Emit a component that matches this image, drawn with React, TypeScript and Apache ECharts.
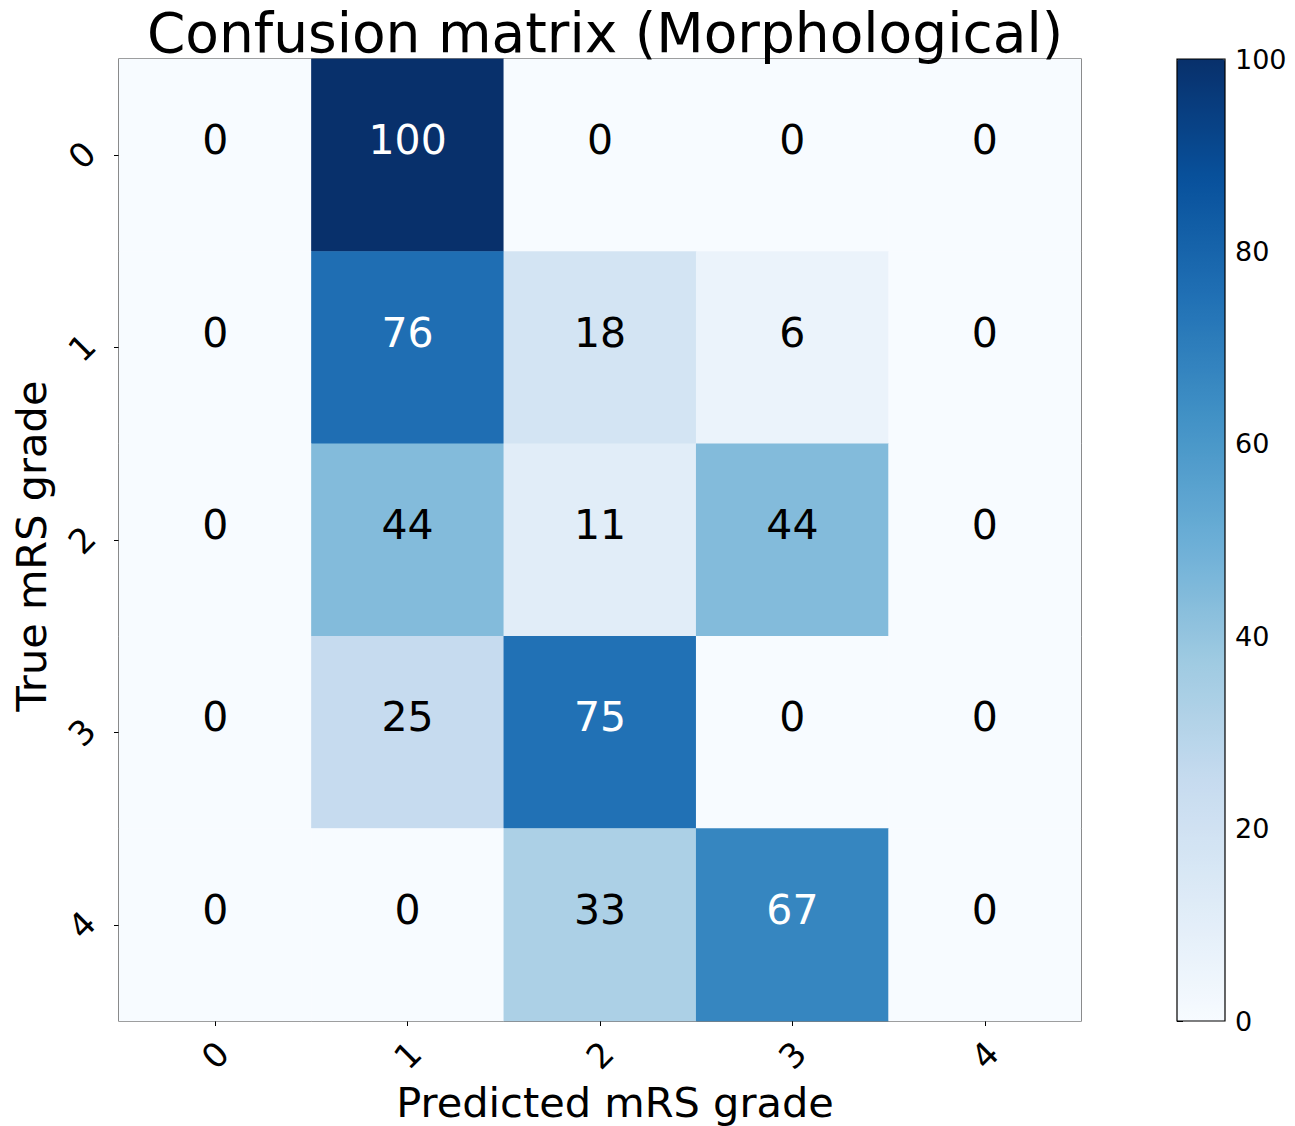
import React, { useEffect, useRef } from "react";
import * as echarts from "echarts";

const predictedLabels = ["0", "1", "2", "3", "4"];
const trueLabels = ["0", "1", "2", "3", "4"];
const matrixRows = [
  [0, 100, 0, 0, 0],
  [0, 76, 18, 6, 0],
  [0, 44, 11, 44, 0],
  [0, 25, 75, 0, 0],
  [0, 0, 33, 67, 0],
];
const colorbarTicks = [0, 20, 40, 60, 80, 100];
const bluesColors = [
  "#f7fbff", "#deebf7", "#c6dbef", "#9ecae1", "#6baed6",
  "#4292c6", "#2171b5", "#08519c", "#08306b",
];

const FONT = "DejaVu Sans";

export default function App() {
  const ref = useRef<HTMLDivElement>(null);
  useEffect(() => {
    document.body.style.margin = "0";
    const chart = echarts.init(ref.current!, null, { renderer: "svg" });
    const data: any[] = [];
    matrixRows.forEach((row, yi) => {
      row.forEach((v, xi) => {
        data.push({
          value: [xi, yi, v],
          label: { color: v > 50 ? "#ffffff" : "#000000" },
        });
      });
    });
    const plotLeft = 119, plotTop = 59, plotSize = 962;
    const cbLeft = 1177, cbWidth = 48;
    chart.setOption({
      animation: false,
      backgroundColor: "#ffffff",
      textStyle: { fontFamily: FONT },
      title: {
        text: "Confusion matrix (Morphological)",
        left: 600,
        textAlign: "center",
        top: 0,
        textStyle: { fontFamily: FONT, fontSize: 55, fontWeight: "normal", color: "#000" },
      },
      grid: [
        {
          left: plotLeft, top: plotTop, width: plotSize, height: plotSize,
          containLabel: false, outerBoundsMode: "none",
          show: true, borderColor: "#000", borderWidth: 1.2, backgroundColor: "transparent",
        },
        {
          left: cbLeft, top: plotTop, width: cbWidth, height: plotSize,
          containLabel: false, outerBoundsMode: "none",
          show: false,
        },
      ],
      graphic: [
        {
          type: "rect",
          z: 100,
          shape: { x: cbLeft, y: plotTop, width: cbWidth, height: plotSize },
          style: { fill: "none", stroke: "#000", lineWidth: 1.2 },
          silent: true,
        },
      ],
      xAxis: [
        {
          type: "category",
          data: predictedLabels,
          gridIndex: 0,
          position: "bottom",
          name: "Predicted mRS grade",
          nameLocation: "middle",
          nameGap: 60,
          nameTextStyle: { fontFamily: FONT, fontSize: 41.5, color: "#000", padding: [0, 0, 0, 30] },
          axisLine: { show: false },
          axisTick: { show: true, alignWithLabel: true, length: 5, lineStyle: { color: "#000" } },
          axisLabel: {
            rotate: 45, fontSize: 34, color: "#000", fontFamily: FONT,
            align: "center", verticalAlign: "middle", margin: 34,
          },
          splitLine: { show: false },
        },
        { type: "value", gridIndex: 1, show: false, min: 0, max: 1 },
      ],
      yAxis: [
        {
          type: "category",
          data: trueLabels,
          inverse: true,
          gridIndex: 0,
          name: "True mRS grade",
          nameLocation: "middle",
          nameGap: 67,
          nameTextStyle: { fontFamily: FONT, fontSize: 41.5, color: "#000", padding: [0, 12, 0, 0] },
          axisLine: { show: false },
          axisTick: { show: true, alignWithLabel: true, length: 5, lineStyle: { color: "#000" } },
          axisLabel: {
            rotate: 45, fontSize: 34, color: "#000", fontFamily: FONT,
            align: "center", verticalAlign: "middle", margin: 37,
          },
          splitLine: { show: false },
        },
        {
          type: "value",
          gridIndex: 1,
          position: "right",
          min: 0,
          max: 100,
          interval: 20,
          axisLine: { show: false },
          axisTick: { show: true, length: 6, lineStyle: { color: "#000" } },
          axisLabel: {
            fontSize: 27, color: "#000", fontFamily: FONT, margin: 10,
            formatter: (v: number) => (colorbarTicks.includes(v) ? String(v) : ""),
          },
          splitLine: { show: false },
        },
      ],
      visualMap: {
        type: "continuous",
        min: 0,
        max: 100,
        seriesIndex: 0,
        calculable: false,
        show: true,
        orient: "vertical",
        left: cbLeft,
        top: plotTop,
        itemWidth: cbWidth,
        itemHeight: plotSize,
        padding: 0,
        text: ["", ""],
        showLabel: false,
        hoverLink: false,
        inRange: { color: bluesColors },
      },
      series: [
        {
          type: "heatmap",
          xAxisIndex: 0,
          yAxisIndex: 0,
          data,
          label: {
            show: true,
            fontSize: 41,
            fontFamily: FONT,
            offset: [0, -15],
            formatter: (p: any) => String(p.value[2]),
          },
          itemStyle: { borderWidth: 0 },
          emphasis: { disabled: true },
        },
      ],
    });
    return () => chart.dispose();
  }, []);
  return <div ref={ref} style={{ width: 1295, height: 1126 }} />;
}
